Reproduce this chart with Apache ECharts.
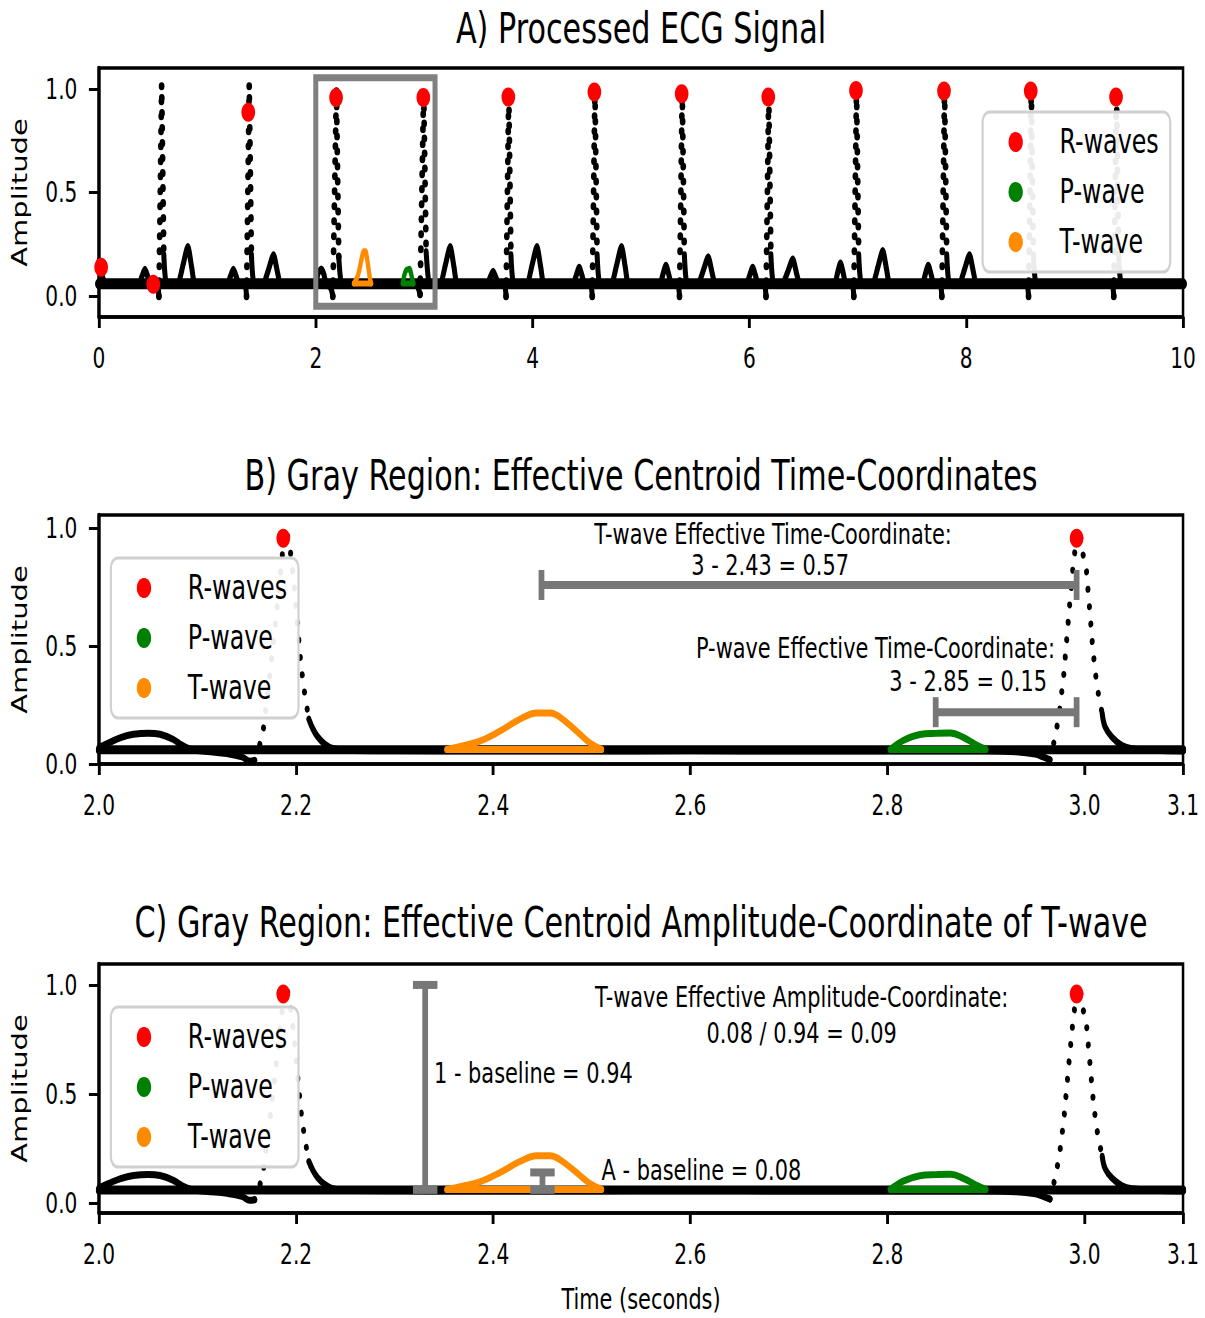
<!DOCTYPE html>
<html>
<head>
<meta charset="utf-8">
<title>ECG centroid figure</title>
<script src="https://cdn.jsdelivr.net/npm/echarts@6.0.0/dist/echarts.min.js"></script>
<style>
  html, body { margin: 0; padding: 0; background: #fff; overflow: hidden; }
  /* the figure is laid out wide and condensed horizontally */
  #chart { width: 1674px; height: 1318px; transform: scaleX(0.71983); transform-origin: 0 0; }
</style>
</head>
<body>
<div id="chart"></div>
<script>
// ---------------- data ----------------
// detected R-wave markers (time s, amplitude)
const rPeakTimes = [0.020, 0.501, 1.377, 2.187, 2.992, 3.776, 4.570, 5.375, 6.174, 6.983, 7.795, 8.595, 9.382];
const rPeakAmps  = [0.140, 0.058, 0.887, 0.958, 0.958, 0.960, 0.984, 0.976, 0.960, 0.992, 0.989, 0.989, 0.960];

const baselineLevel = 0.06;

// full 10 s processed signal, knots [time, amplitude]
const overviewTrace = [
  [0.000,0.170],[0.015,0.150],[0.035,0.090],[0.055,0.062],[0.150,0.058],[0.280,0.060],
  [0.369,0.062],[0.396,0.095],[0.424,0.130],[0.450,0.095],[0.474,0.060],
  [0.533,0.056],[0.546,0.040],[0.553,0.000],[0.578,1.020],[0.598,0.200],[0.618,0.070],[0.668,0.058],
  [0.730,0.062],[0.775,0.150],[0.820,0.240],[0.855,0.140],[0.885,0.062],
  [1.000,0.058],[1.110,0.060],
  [1.185,0.062],[1.212,0.095],[1.240,0.130],[1.266,0.095],[1.290,0.060],
  [1.341,0.056],[1.354,0.040],[1.361,0.000],[1.386,1.020],[1.406,0.200],[1.426,0.070],[1.476,0.058],
  [1.520,0.062],[1.565,0.130],[1.610,0.200],[1.645,0.120],[1.675,0.062],
  [1.800,0.058],[1.940,0.060],
  [2.000,0.070],[2.022,0.112],[2.050,0.131],[2.075,0.105],[2.095,0.060],[2.130,0.044],[2.145,0.030],[2.157,0.000],
  [2.190,1.000],[2.212,0.190],[2.236,0.066],[2.300,0.056],[2.600,0.056],[2.930,0.052],[2.962,0.010],
  [2.995,1.000],[3.018,0.214],[3.040,0.079],[3.070,0.058],
  [3.150,0.062],[3.195,0.150],[3.240,0.240],[3.275,0.140],[3.305,0.062],
  [3.450,0.058],
  [3.581,0.062],[3.608,0.090],[3.636,0.120],[3.662,0.090],[3.686,0.060],
  [3.735,0.056],[3.748,0.040],[3.755,0.000],[3.780,0.990],[3.800,0.200],[3.820,0.070],[3.870,0.058],
  [3.950,0.062],[3.995,0.150],[4.040,0.240],[4.075,0.140],[4.105,0.062],
  [4.250,0.058],
  [4.375,0.062],[4.402,0.100],[4.430,0.140],[4.456,0.100],[4.480,0.060],
  [4.530,0.056],[4.543,0.040],[4.550,0.000],[4.575,1.000],[4.595,0.200],[4.615,0.070],[4.665,0.058],
  [4.730,0.062],[4.775,0.150],[4.820,0.240],[4.855,0.140],[4.885,0.062],
  [5.050,0.058],
  [5.175,0.062],[5.202,0.105],[5.230,0.150],[5.256,0.105],[5.280,0.060],
  [5.335,0.056],[5.348,0.040],[5.355,0.000],[5.380,1.000],[5.400,0.200],[5.420,0.070],[5.470,0.058],
  [5.530,0.062],[5.575,0.125],[5.620,0.190],[5.655,0.115],[5.685,0.062],
  [5.850,0.058],
  [5.975,0.062],[6.002,0.100],[6.030,0.140],[6.056,0.100],[6.080,0.060],
  [6.133,0.056],[6.146,0.040],[6.153,0.000],[6.178,0.990],[6.198,0.200],[6.218,0.070],[6.268,0.058],
  [6.310,0.062],[6.355,0.120],[6.400,0.180],[6.435,0.110],[6.465,0.062],
  [6.650,0.058],
  [6.785,0.062],[6.812,0.110],[6.840,0.160],[6.866,0.110],[6.890,0.060],
  [6.943,0.056],[6.956,0.040],[6.963,0.000],[6.988,1.000],[7.008,0.200],[7.028,0.070],[7.078,0.058],
  [7.140,0.062],[7.185,0.140],[7.230,0.220],[7.265,0.130],[7.295,0.062],
  [7.450,0.058],
  [7.595,0.062],[7.622,0.105],[7.650,0.150],[7.676,0.105],[7.700,0.060],
  [7.755,0.056],[7.768,0.040],[7.775,0.000],[7.800,1.000],[7.820,0.200],[7.840,0.070],[7.890,0.058],
  [7.940,0.062],[7.985,0.130],[8.030,0.200],[8.065,0.120],[8.095,0.062],
  [8.300,0.058],
  [8.555,0.056],[8.568,0.040],[8.575,0.000],[8.600,1.000],[8.620,0.200],[8.640,0.070],[8.690,0.058],
  [9.000,0.060],
  [9.341,0.056],[9.354,0.040],[9.361,0.000],[9.386,0.990],[9.406,0.200],[9.426,0.070],[9.476,0.058],
  [9.800,0.060],[10.000,0.058]
];
// QRS upstroke/downstroke windows (sparsely sampled, drawn as dots)
const overviewSpikes = [
  [0.553,0.598],[1.361,1.406],[2.157,2.212],[2.962,3.018],[3.755,3.800],[4.550,4.595],
  [5.355,5.400],[6.153,6.198],[6.963,7.008],[7.775,7.820],[8.575,8.620],[9.361,9.406]
];

// 2.0 - 3.1 s window of the same signal
const detailTrace = [
  [2.000,0.070],[2.010,0.090],[2.022,0.112],[2.035,0.126],[2.050,0.131],[2.062,0.126],[2.075,0.105],
  [2.085,0.078],[2.095,0.060],[2.110,0.053],[2.130,0.044],[2.145,0.030],[2.153,0.012],[2.158,0.015],
  [2.166,0.120],[2.172,0.330],[2.178,0.560],[2.184,0.800],[2.187,0.930],[2.190,1.000],[2.194,0.910],
  [2.198,0.760],[2.202,0.560],[2.205,0.420],[2.208,0.320],[2.211,0.240],[2.213,0.190],
  [2.217,0.150],[2.222,0.115],[2.229,0.085],[2.237,0.066],[2.250,0.058],[2.300,0.056],[2.400,0.055],
  [2.500,0.055],[2.600,0.056],[2.700,0.055],[2.800,0.055],[2.900,0.055],[2.930,0.052],[2.950,0.042],
  [2.958,0.030],[2.965,0.018],
  [2.971,0.130],[2.975,0.235],[2.979,0.380],[2.982,0.530],[2.985,0.680],[2.988,0.820],[2.991,0.930],
  [2.995,1.000],[2.998,0.900],[3.002,0.820],[3.004,0.717],[3.006,0.618],[3.008,0.511],[3.010,0.426],
  [3.012,0.355],[3.014,0.300],[3.016,0.256],[3.018,0.214],
  [3.021,0.157],[3.028,0.114],[3.038,0.079],[3.048,0.065],[3.070,0.058],[3.100,0.055]
];
const detailSpikes = [[2.158,2.213],[2.965,3.018]];

// delineated waves of the beat inside the gray region (upper outline; closed along the chord level)
const tWaveUpper = [
  [2.353,0.062],[2.370,0.078],[2.387,0.098],[2.407,0.140],[2.427,0.190],[2.444,0.217],
  [2.458,0.217],[2.468,0.198],[2.485,0.138],[2.498,0.090],[2.510,0.062]
];
const pWaveUpper = [
  [2.803,0.062],[2.816,0.100],[2.833,0.125],[2.850,0.130],[2.864,0.132],[2.877,0.113],
  [2.890,0.082],[2.900,0.062]
];
const waveChordLevel = 0.062;

// gray region: time window and amplitude span
const grayRegionTime = [2.0, 3.1];
const grayRegionAmp  = [-0.048, 1.053];

// effective time-coordinate brackets: [from, to, amplitude]
const timeBrackets = [[2.449, 2.992, 0.76], [2.849, 2.992, 0.22]];
// effective amplitude-coordinate brackets: [time, from, to]
const ampBrackets = [[2.331, 0.06, 1.00], [2.450, 0.06, 0.14]];

// axis ticks
const overviewTicks = [0, 2, 4, 6, 8, 10];
const detailTicks   = [2.0, 2.2, 2.4, 2.6, 2.8, 3.0, 3.1];
const ampTicks      = [0.0, 0.5, 1.0];

// text
const titles = [
  'A) Processed ECG Signal',
  'B) Gray Region: Effective Centroid Time-Coordinates',
  'C) Gray Region: Effective Centroid Amplitude-Coordinate of T-wave'
];
const timeNotes = [
  { t: 2.684, v: 0.977, text: 'T-wave Effective Time-Coordinate:', align: 'center' },
  { t: 2.681, v: 0.845, text: '3 - 2.43 = 0.57', align: 'center' },
  { t: 2.970, v: 0.491, text: 'P-wave Effective Time-Coordinate:', align: 'right' },
  { t: 2.962, v: 0.351, text: '3 - 2.85 = 0.15', align: 'right' }
];
const ampNotes = [
  { t: 2.713, v: 0.945, text: 'T-wave Effective Amplitude-Coordinate:', align: 'center' },
  { t: 2.713, v: 0.780, text: '0.08 / 0.94 = 0.09', align: 'center' },
  { t: 2.340, v: 0.596, text: '1 - baseline = 0.94', align: 'left' },
  { t: 2.510, v: 0.151, text: 'A - baseline = 0.08', align: 'left' }
];

// ---------------- helpers ----------------
const FONT = 'DejaVu Sans';
const RED = '#ff0000', GREEN = '#008000', ORANGE = '#ff8c00', GRAY = '#808080', BAR = '#777777';
const GAP = ['-', '-'];

// split a knot list into its solid parts and its dotted QRS parts
function splitTrace(trace, spikes) {
  const solid = [], dotted = [];
  let lastSolid = null, lastSpike = -1;
  for (const [t, v] of trace) {
    const k = spikes.findIndex(s => t >= s[0] && t <= s[1]);
    const interior = k >= 0 && t > spikes[k][0] && t < spikes[k][1];
    if (k >= 0) {
      if (lastSpike !== -1 && lastSpike !== k) dotted.push(GAP);
      dotted.push([t, v]);
      lastSpike = k;
    }
    if (!interior) {
      if (lastSolid !== null && spikes.some(s => s[0] >= lastSolid && s[1] <= t)) solid.push(GAP);
      solid.push([t, v]);
      lastSolid = t;
    }
  }
  return { solid, dotted };
}

const overview = splitTrace(overviewTrace, overviewSpikes);
const detail = splitTrace(detailTrace, detailSpikes);
const rPeaks = rPeakTimes.map((t, i) => [t, rPeakAmps[i]]);
const inWindow = p => p[0] >= grayRegionTime[0] && p[0] <= grayRegionTime[1];

const GRID_LEFT = 137.5, GRID_W = 1506, GRID_H = 249;
const gridTops = [68, 515, 964];
const xRanges = [[0, 10], [2.0, 3.1], [2.0, 3.1]];
const yRanges = [[-0.10, 1.10], [0, 1.057], [-0.046, 1.096]];

function xAxisFor(i) {
  const ticks = i === 0 ? overviewTicks : detailTicks;
  return {
    gridIndex: i, type: 'value', min: xRanges[i][0], max: xRanges[i][1],
    axisLine: { show: true, onZero: false, lineStyle: { color: '#000', width: 3.5 } },
    axisTick: { show: true, customValues: ticks, length: 11, lineStyle: { color: '#000', width: 4 } },
    axisLabel: {
      customValues: ticks, margin: 27, color: '#000', fontSize: 28, fontFamily: FONT,
      formatter: v => (i === 0 ? String(Math.round(v)) : Number(v).toFixed(1))
    },
    splitLine: { show: false },
    name: i === 2 ? 'Time (seconds)' : '',
    nameLocation: 'middle', nameGap: 72, nameMoveOverlap: false,
    nameTextStyle: { color: '#000', fontSize: 29, fontFamily: FONT }
  };
}
function yAxisFor(i) {
  return {
    gridIndex: i, type: 'value', min: yRanges[i][0], max: yRanges[i][1],
    axisLine: { show: true, onZero: false, lineStyle: { color: '#000', width: 4.6 } },
    axisTick: { show: true, customValues: ampTicks, length: 14, lineStyle: { color: '#000', width: 3 } },
    axisLabel: {
      customValues: ampTicks, margin: 30, color: '#000', fontSize: 28, fontFamily: FONT,
      formatter: v => Number(v).toFixed(1)
    },
    splitLine: { show: false },
    name: 'Amplitude', nameLocation: 'middle', nameRotate: 90, nameGap: 95, nameMoveOverlap: false,
    nameTextStyle: { color: '#000', fontSize: 29, fontFamily: FONT }
  };
}

function line(i, data, color, width, extra) {
  return Object.assign({
    type: 'line', xAxisIndex: i, yAxisIndex: i, data,
    showSymbol: false, symbol: 'none', silent: true, animation: false,
    connectNulls: false, clip: true,
    lineStyle: { color, width, cap: 'round', join: 'round' },
    itemStyle: { color }
  }, extra || {});
}

function panelSeries(i) {
  const tr = i === 0 ? overview : detail;
  const xr = xRanges[i];
  const sigW = 7, dotW = i === 0 ? 8 : 7;
  return [
    line(i, [[xr[0], baselineLevel], [xr[1], baselineLevel]], '#000', i === 0 ? 11 : 9, { z: 1 }),
    line(i, tr.solid, '#000', sigW, { z: 2, smooth: i === 0 ? 0.2 : 0.4 }),
    line(i, tr.dotted, '#000', dotW, {
      z: 2,
      lineStyle: { color: '#000', width: dotW, cap: 'round', type: [0.01, i === 0 ? 15 : 17.5] }
    }),
    line(i, tWaveUpper, ORANGE, i === 0 ? 6 : 7, { name: 'T-wave', z: 3, smooth: 0.4 }),
    line(i, [[tWaveUpper[0][0], waveChordLevel], [tWaveUpper[tWaveUpper.length - 1][0], waveChordLevel]],
      ORANGE, i === 0 ? 6 : 7, { z: 3 }),
    line(i, pWaveUpper, GREEN, i === 0 ? 6 : 7, { name: 'P-wave', z: 3, smooth: 0.4 }),
    line(i, [[pWaveUpper[0][0], waveChordLevel], [pWaveUpper[pWaveUpper.length - 1][0], waveChordLevel]],
      GREEN, i === 0 ? 6 : 7, { z: 3 }),
    {
      type: 'scatter', name: 'R-waves', xAxisIndex: i, yAxisIndex: i, z: 4, silent: true,
      data: i === 0 ? rPeaks : rPeaks.filter(inWindow),
      symbol: 'circle', symbolSize: 19, itemStyle: { color: RED, opacity: 1 }, clip: true
    }
  ];
}

function notesSeries(i, notes) {
  return {
    type: 'custom', xAxisIndex: i, yAxisIndex: i, z: 8, silent: true,
    data: notes.map(n => [n.t, n.v]),
    renderItem: (params, api) => {
      const n = notes[params.dataIndex];
      const p = api.coord([n.t, n.v]);
      return {
        type: 'text', x: p[0], y: p[1],
        style: {
          text: n.text, fill: '#000', fontSize: 29, fontFamily: FONT,
          align: n.align, textAlign: n.align, verticalAlign: 'middle', textVerticalAlign: 'middle'
        }
      };
    }
  };
}

const CAP = 15, CAP_H = 17;
const barStyle = { stroke: BAR, lineWidth: 8, fill: 'none' };

const series = [
  ...panelSeries(0), ...panelSeries(1), ...panelSeries(2),
  // gray region box on the overview
  {
    type: 'custom', xAxisIndex: 0, yAxisIndex: 0, z: 6, silent: true,
    data: [[grayRegionTime[0], grayRegionTime[1], grayRegionAmp[0], grayRegionAmp[1]]],
    encode: { x: [0, 1], y: [2, 3] },
    renderItem: (params, api) => {
      const a = api.coord([api.value(0), api.value(3)]);
      const b = api.coord([api.value(1), api.value(2)]);
      return {
        type: 'rect',
        shape: { x: a[0], y: a[1], width: b[0] - a[0], height: b[1] - a[1] },
        style: { fill: 'none', stroke: GRAY, lineWidth: 7 }
      };
    }
  },
  // effective time-coordinate brackets
  {
    type: 'custom', xAxisIndex: 1, yAxisIndex: 1, z: 6, silent: true,
    data: timeBrackets, encode: { x: [0, 1], y: 2 },
    renderItem: (params, api) => {
      const y = api.value(2);
      const a = api.coord([api.value(0), y]), b = api.coord([api.value(1), y]);
      return {
        type: 'group', children: [
          { type: 'line', shape: { x1: a[0], y1: a[1], x2: b[0], y2: b[1] }, style: barStyle },
          { type: 'line', shape: { x1: a[0], y1: a[1] - CAP, x2: a[0], y2: a[1] + CAP }, style: barStyle },
          { type: 'line', shape: { x1: b[0], y1: b[1] - CAP, x2: b[0], y2: b[1] + CAP }, style: barStyle }
        ]
      };
    }
  },
  // effective amplitude-coordinate brackets
  {
    type: 'custom', xAxisIndex: 2, yAxisIndex: 2, z: 6, silent: true,
    data: ampBrackets, encode: { x: 0, y: [1, 2] },
    renderItem: (params, api) => {
      const x = api.value(0);
      const a = api.coord([x, api.value(1)]), b = api.coord([x, api.value(2)]);
      return {
        type: 'group', children: [
          { type: 'line', shape: { x1: a[0], y1: a[1], x2: b[0], y2: b[1] }, style: barStyle },
          { type: 'line', shape: { x1: a[0] - CAP_H, y1: a[1], x2: a[0] + CAP_H, y2: a[1] }, style: barStyle },
          { type: 'line', shape: { x1: b[0] - CAP_H, y1: b[1], x2: b[0] + CAP_H, y2: b[1] }, style: barStyle }
        ]
      };
    }
  },
  notesSeries(1, timeNotes),
  notesSeries(2, ampNotes)
];

function legendAt(left, top) {
  return {
    left, top, orient: 'vertical', selectedMode: false, z: 20,
    padding: [12, 16, 12, 36], itemGap: 14, itemWidth: 20, itemHeight: 20,
    backgroundColor: 'rgba(255,255,255,0.92)', borderColor: '#d0d0d0', borderWidth: 3, borderRadius: 10,
    textStyle: { color: '#000', fontSize: 33, fontFamily: FONT, lineHeight: 36, padding: [0, 0, 0, 46] },
    data: [
      { name: 'R-waves', icon: 'circle', itemStyle: { color: RED, borderWidth: 0 } },
      { name: 'P-wave', icon: 'circle', itemStyle: { color: GREEN, borderWidth: 0 } },
      { name: 'T-wave', icon: 'circle', itemStyle: { color: ORANGE, borderWidth: 0 } }
    ]
  };
}

const option = {
  animation: false,
  backgroundColor: '#fff',
  grid: gridTops.map(top => ({
    left: GRID_LEFT, top, width: GRID_W, height: GRID_H,
    show: true, borderColor: '#000', borderWidth: 3.5, backgroundColor: 'transparent',
    containLabel: false, outerBoundsMode: 'none'
  })),
  xAxis: [0, 1, 2].map(xAxisFor),
  yAxis: [0, 1, 2].map(yAxisFor),
  legend: [legendAt(1365, 112), legendAt(154, 558), legendAt(154, 1007)],
  graphic: titles.map((text, k) => ({
    type: 'text', x: GRID_LEFT + GRID_W / 2, y: [29, 476, 923][k], silent: true,
    style: {
      text, fill: '#000', fontSize: 42, fontFamily: FONT,
      align: 'center', textAlign: 'center', verticalAlign: 'middle', textVerticalAlign: 'middle'
    }
  })),
  series
};

const chart = echarts.init(document.getElementById('chart'), null, { renderer: 'svg', width: 1674, height: 1318 });
chart.setOption(option);
</script>
</body>
</html>
